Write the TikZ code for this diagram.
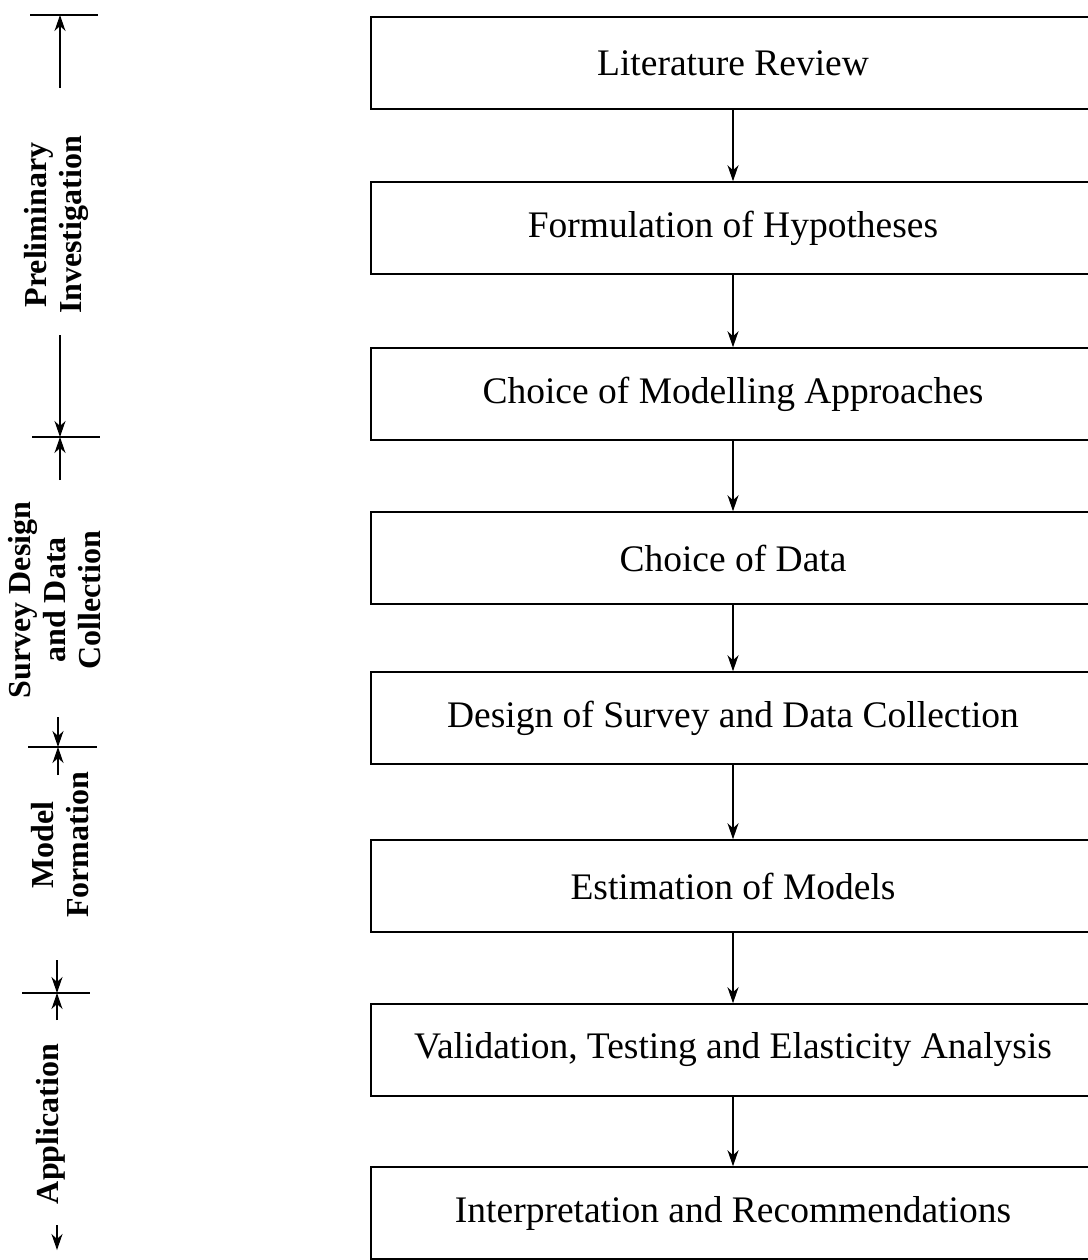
\documentclass[tikz,border=0pt]{standalone}
\usepackage{fontspec}
\setmainfont{Liberation Serif}
\usetikzlibrary{arrows.meta}
\tikzset{
  stage/.style={draw, line width=1.5pt, minimum width=724pt, minimum height=92pt,
    inner sep=0pt, font=\fontsize{37.5}{44}\selectfont},
  phase/.style={rotate=90, align=center, font=\bfseries\fontsize{32}{35}\selectfont},
  flow/.style={-{Stealth[length=16pt,width=11pt,inset=5pt]}, line width=1.3pt},
  bar/.style={line width=2pt},
}
\begin{document}
\begin{tikzpicture}[x=1pt,y=-1pt]
  \useasboundingbox (0,0) rectangle (1087,1260);
  % stages
  \draw
    (733,63) node[stage] (lit){Literature Review}
    (733,228) node[stage] (hyp){Formulation of Hypotheses}
    (733,394) node[stage] (app){Choice of Modelling Approaches}
    (733,558) node[stage] (dat){Choice of Data}
    (733,718) node[stage] (sur){Design of Survey and Data Collection}
    (733,886) node[stage] (est){Estimation of Models}
    (733,1050) node[stage] (val){Validation, Testing and Elasticity Analysis}
    (733,1213) node[stage] (int){Interpretation and Recommendations};
  \begin{scope}[flow]
    \draw (lit) to (hyp);
    \draw (hyp) to (app);
    \draw (app) to (dat);
    \draw (dat) to (sur);
    \draw (sur) to (est);
    \draw (est) to (val);
    \draw (val) to (int);
  \end{scope}
  % phases
  \draw
    (56,225) node[phase] (p1){Preliminary\\Investigation}
    (55,600) node[phase] (p2){Survey Design\\and Data\\Collection}
    (60,845) node[phase] (p3){Model\\Formation}
    (51,1124) node[phase] (p4){Application};
  \coordinate (b0) at (60,15);
  \coordinate (b1) at (60,437);
  \coordinate (b2) at (58,747);
  \coordinate (b3) at (57,993);
  \coordinate (b4) at (57,1250);
  \begin{scope}[bar]
    \draw ([xshift=-30pt]b0) to ([xshift=38pt]b0);
    \draw ([xshift=-28pt]b1) to ([xshift=40pt]b1);
    \draw ([xshift=-30pt]b2) to ([xshift=39pt]b2);
    \draw ([xshift=-35pt]b3) to ([xshift=33pt]b3);
  \end{scope}
  \begin{scope}[flow]
    \draw ([yshift=-73pt]b0) to (b0);
    \draw ([yshift=102pt]b1) to (b1);
    \draw ([yshift=-43pt]b1) to (b1);
    \draw ([yshift=30pt]b2) to (b2);
    \draw ([yshift=-28pt]b2) to (b2);
    \draw ([yshift=33pt]b3) to (b3);
    \draw ([yshift=-27pt]b3) to (b3);
    \draw ([yshift=25pt]b4) to (b4);
  \end{scope}
\end{tikzpicture}
\end{document}
